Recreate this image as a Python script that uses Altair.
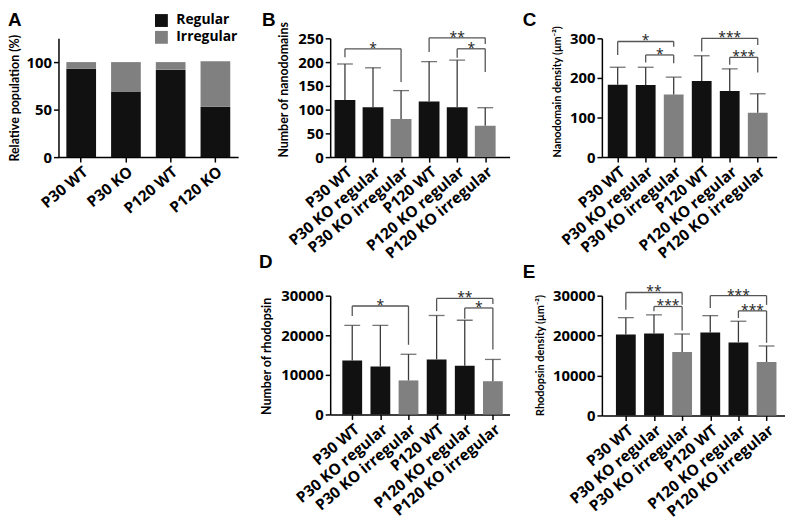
import json
import altair as alt
import pandas as pd

FONT = "Open Sans"
TITLE_FONT = "Lato"
LETTER_FONT = "Liberation Sans"

# ---------------- Panel A data ----------------
a_groups = ["P30 WT", "P30 KO", "P120 WT", "P120 KO"]
a_types = ["Regular", "Irregular"]
a_regular = [93, 69, 92, 53]
a_irregular = [7, 31, 8, 48]

# ---------------- Panels B-E data ----------------
groups = ["P30 WT", "P30 KO regular", "P30 KO irregular",
          "P120 WT", "P120 KO regular", "P120 KO irregular"]
kinds = ["regular", "regular", "irregular", "regular", "regular", "irregular"]

b_mean = [120, 105, 80, 117, 105, 66]
b_err = [196, 188, 140, 201, 204, 104]
c_mean = [183, 182, 158, 192, 167, 112]
c_err = [227, 227, 202, 256, 223, 160]
d_mean = [13600, 12100, 8600, 13900, 12300, 8400]
d_err = [22500, 22500, 15200, 25000, 23800, 13900]
e_mean = [20300, 20500, 15900, 20800, 18300, 13400]
e_err = [24500, 25200, 20400, 25000, 23600, 17400]

# significance brackets: from-index, to-index, bracket height, left leg end, right leg end, label
b_br_from = [0, 3, 4]
b_br_to = [2, 5, 5]
b_br_top = [228, 251, 228]
b_br_left = [210, 221, 209]
b_br_right = [158, 238, 179]
b_br_label = ["*", "**", "*"]

c_br_from = [0, 1, 3, 4]
c_br_to = [2, 2, 5, 5]
c_br_top = [292, 258, 300, 252]
c_br_left = [258, 239, 267, 233]
c_br_right = [279, 237, 283, 214]
c_br_label = ["*", "*", "***", "***"]

d_br_from = [0, 3, 4]
d_br_to = [2, 5, 5]
d_br_top = [27400, 29300, 26900]
d_br_left = [24900, 26100, 24200]
d_br_right = [17600, 27900, 16400]
d_br_label = ["*", "**", "*"]

e_br_from = [0, 1, 3, 4]
e_br_to = [2, 2, 5, 5]
e_br_top = [30800, 27300, 30000, 26200]
e_br_left = [26500, 26100, 26900, 24400]
e_br_right = [27700, 21300, 27700, 18200]
e_br_label = ["**", "***", "***", "***"]

BLACK = "#111111"
GREY = "#808080"
LABEL_ANGLE = -40

label_expr = json.dumps(groups) + "[datum.value]"


def letter_layer(letter, lx, ly):
    return alt.Chart(pd.DataFrame({"t": [letter]})).mark_text(
        font=LETTER_FONT, fontSize=19, fontWeight="bold", color="black",
        align="left", baseline="alphabetic").encode(
        text="t:N", x=alt.value(lx), y=alt.value(ly))


def bar_panel(mean, err, br_from, br_to, br_top, br_left, br_right, br_label,
              letter, lx, ly, ytitle, title_size, ymax, ytick_vals, xdom, w, h, bar_w):
    df = pd.DataFrame({"idx": list(range(len(groups))), "group": groups, "kind": kinds,
                       "mean": mean, "err": err})
    segs = []
    for f, t, top, l, r in zip(br_from, br_to, br_top, br_left, br_right):
        segs.append({"x": f, "x2": t, "y": top, "y2": top})
        segs.append({"x": f, "x2": f, "y": top, "y2": l})
        segs.append({"x": t, "x2": t, "y": top, "y2": r})
    segs = pd.DataFrame(segs)
    stars = pd.DataFrame({"xm": [(f + t) / 2 for f, t in zip(br_from, br_to)],
                          "y": br_top, "label": br_label})

    xscale = alt.Scale(domain=xdom, nice=False, zero=False)
    yscale = alt.Scale(domain=[0, ymax], nice=False)
    xaxis = alt.Axis(values=list(range(len(groups))), labelExpr=label_expr,
                     labelAngle=LABEL_ANGLE, labelAlign="right", labelBaseline="top",
                     labelOverlap=False, labelFlush=False, labelBound=False,
                     labelPadding=2, grid=False, title=None)
    yaxis = alt.Axis(values=ytick_vals, format="d", titleAnchor="start", titlePadding=7,
                     titleFontSize=title_size, labelPadding=2, labelOverlap=False,
                     grid=False, title=ytitle)

    def X(f):
        return alt.X(f, scale=xscale, axis=xaxis)

    def Y(f):
        return alt.Y(f, scale=yscale, axis=yaxis)

    bars = alt.Chart(df).mark_bar(size=bar_w).encode(
        x=X("idx:Q"), y=Y("mean:Q"),
        color=alt.Color("kind:N", scale=alt.Scale(domain=["regular", "irregular"],
                                                  range=[BLACK, GREY]), legend=None),
    )
    errline = alt.Chart(df).mark_rule(color="#3a3a3a", strokeWidth=1.3).encode(
        x=X("idx:Q"), y=Y("mean:Q"), y2="err:Q")
    cap = alt.Chart(df).mark_tick(color="#3a3a3a", size=16, thickness=1.3,
                                  orient="horizontal").encode(
        x=X("idx:Q"), y=Y("err:Q"))
    brk = alt.Chart(segs).mark_rule(color="#555555", strokeWidth=1.3).encode(
        x=X("x:Q"), x2="x2:Q", y=Y("y:Q"), y2="y2:Q")
    txt = alt.Chart(stars).mark_text(font=FONT, fontSize=14, dy=4, baseline="alphabetic",
                                     color="#222222").encode(
        x=X("xm:Q"), y=Y("y:Q"), text="label:N")
    return alt.layer(bars, errline, cap, brk, txt, letter_layer(letter, lx, ly)).properties(
        width=w, height=h)


# ---------------- Panel A ----------------
rowsA = []
for g, r, i in zip(a_groups, a_regular, a_irregular):
    rowsA.append({"group": g, "type": a_types[0], "value": r, "ord": 0})
    rowsA.append({"group": g, "type": a_types[1], "value": i, "ord": 1})
dfA = pd.DataFrame(rowsA)

barsA = alt.Chart(dfA).mark_bar().encode(
    x=alt.X("group:N", sort=a_groups, title=None,
            scale=alt.Scale(paddingInner=0.336, paddingOuter=0.176),
            axis=alt.Axis(labelAngle=LABEL_ANGLE, labelAlign="right", labelBaseline="top",
                          labelPadding=2, labelOverlap=False)),
    y=alt.Y("value:Q", stack="zero", title="Relative population (%)",
            scale=alt.Scale(domain=[0, 125], nice=False),
            axis=alt.Axis(values=[0, 50, 100], titlePadding=5, titleFontSize=12.5,
                          labelPadding=2, labelOverlap=False, grid=False)),
    color=alt.Color("type:N", scale=alt.Scale(domain=a_types, range=[BLACK, GREY]),
                    legend=alt.Legend(title=None, orient="none", legendX=97, legendY=-25,
                                      symbolType="square", symbolSize=169,
                                      symbolStrokeWidth=0, padding=0, rowPadding=3,
                                      labelOffset=8, labelFont=FONT, labelFontSize=14,
                                      labelFontWeight="bold", labelColor="black")),
    order=alt.Order("ord:Q"),
)
panelA = alt.layer(barsA, letter_layer("A", -51, -12.5)).properties(width=181.5, height=120)

panelB = bar_panel(b_mean, b_err, b_br_from, b_br_to, b_br_top, b_br_left, b_br_right, b_br_label,
                   "B", -69, -12.5, "Number of nanodomains", 12.5, 250, [0, 50, 100, 150, 200, 250],
                   [-0.35, 5.69], 181.2, 120, 21)
panelC = bar_panel(c_mean, c_err, c_br_from, c_br_to, c_br_top, c_br_left, c_br_right, c_br_label,
                   "C", -80, -12.5, "Nanodomain density (\u03bcm\u207b\u00b2)", 11, 300,
                   [0, 100, 200, 300], [-0.387, 5.5], 176.6, 120, 20)
panelD = bar_panel(d_mean, d_err, d_br_from, d_br_to, d_br_top, d_br_left, d_br_right, d_br_label,
                   "D", -72, -28, "Number of rhodopsin", 12.5, 30000, [0, 10000, 20000, 30000],
                   [-0.608, 5.416], 181.2, 120, 20)
panelE = bar_panel(e_mean, e_err, e_br_from, e_br_to, e_br_top, e_br_left, e_br_right, e_br_label,
                   "E", -80, -18, "Rhodopsin density (\u03bcm\u207b\u00b2)", 11, 30000,
                   [0, 10000, 20000, 30000], [-0.675, 5.479], 185, 121, 20)

empty = alt.Chart(pd.DataFrame({"v": [0]})).mark_point(opacity=0).encode(
    x=alt.X("v:Q", axis=None), y=alt.Y("v:Q", axis=None)).properties(width=181.5, height=120)

chart = alt.concat(panelA, panelB, panelC, empty, panelD, panelE, columns=3,
                   spacing={"row": 140, "column": 92.5}, bounds="flush", align="none"
                   ).resolve_scale(color="independent").properties(padding=0
                   ).configure_view(stroke=None).configure_axis(
    domainColor="black", domainWidth=1.5, tickColor="black", tickWidth=1.5, tickSize=5,
    labelFont=FONT, labelFontSize=15, labelFontWeight="bold", labelColor="black",
    labelOverlap=False,
    titleFont=TITLE_FONT, titleFontSize=12, titleFontWeight="bold", titleColor="black",
).configure_axisX(labelFontSize=15.5)

chart.save("out.html", embed_options={"renderer": "svg", "actions": False})
